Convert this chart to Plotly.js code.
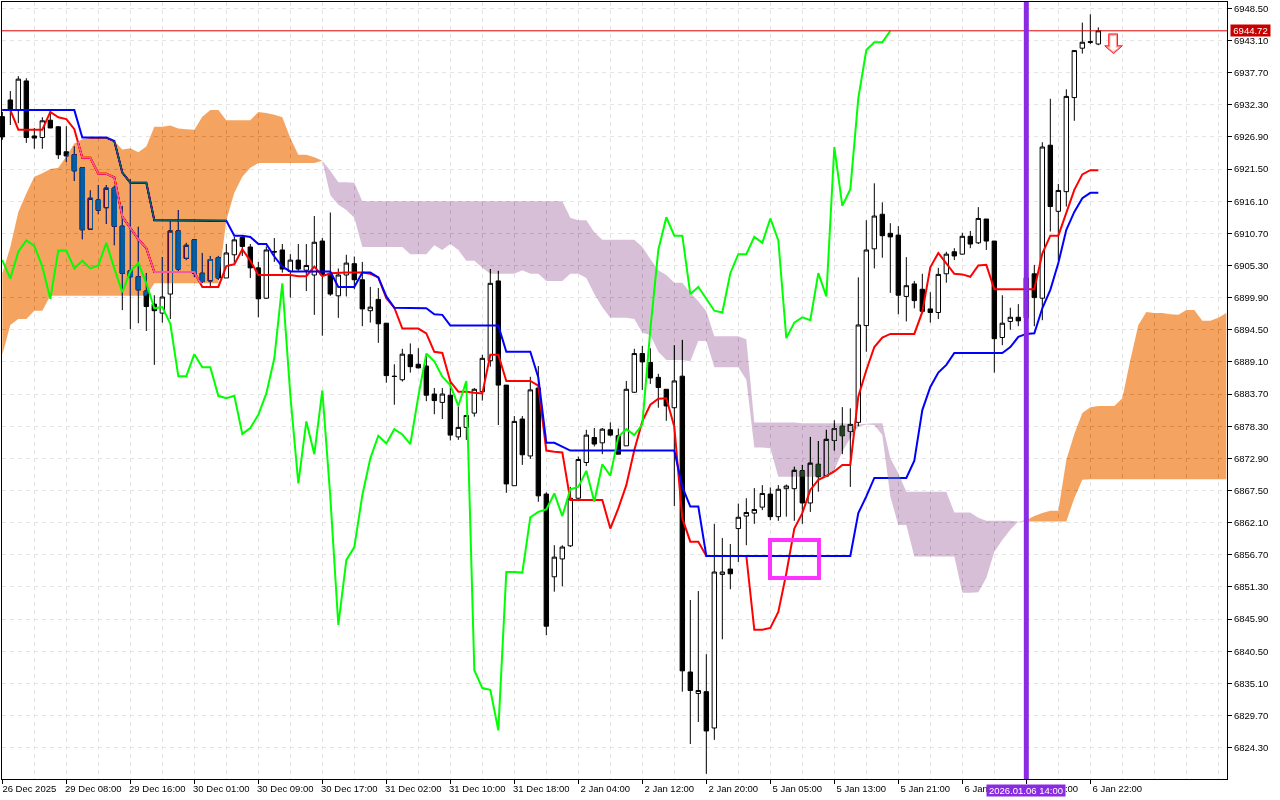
<!DOCTYPE html>
<html>
<head>
<meta charset="utf-8">
<script src="https://cdn.plot.ly/plotly-3.0.1.min.js"></script>
<style>html,body{margin:0;padding:0;background:#fff}#chart{width:1280px;height:800px}</style>
</head>
<body>
<div id="chart"></div>
<script>
const open = [
6930.3,6933.1,6931.4,6936.3,6927.05,6926.8,6929.7,6928.6,6924.4,6923.9,
6921.7,6911.4,6916.3,6915.0,6918.3,6911.9,6904.4,6903.4,6901.0,6898.8,
6897.3,6900.5,6911.1,6906.5,6909.6,6904.0,6902.7,6906.6,6903.2,6907.1,
6910.0,6908.4,6904.9,6899.8,6907.65,6907.9,6904.3,6906.2,6904.5,6903.7,
6909.4,6903.9,6900.2,6903.7,6905.6,6902.9,6897.7,6899.6,6895.6,6886.7,
6886.1,6890.3,6888.7,6888.4,6883.7,6882.3,6883.5,6876.5,6878.1,6880.5,
6884.1,6889.3,6902.7,6885.2,6868.3,6879.5,6873.3,6884.7,6866.9,6853.0,
6856.0,6858.2,6866.2,6872.2,6876.4,6875.5,6877.7,6876.7,6875.0,6884.0,
6890.5,6889.0,6886.5,6884.5,6881.4,6886.7,6837.0,6833.4,6833.7,6827.6,
6853.4,6854.3,6861.1,6863.2,6863.7,6864.7,6866.9,6863.1,6867.8,6867.8,
6870.8,6865.4,6871.9,6869.9,6875.9,6878.3,6877.4,6878.95,6895.2,6908.1,
6913.9,6910.7,6910.4,6900.1,6902.2,6901.3,6898.0,6897.4,6903.9,6907.6,
6907.2,6910.2,6909.1,6913.1,6909.4,6893.2,6895.9,6896.6,6896.5,6903.9,
6899.8,6925.5,6914.4,6917.7,6933.5,6941.8,6942.9,6942.5];
const close = [
6926.9,6931.4,6936.6,6926.8,6926.7,6929.6,6928.4,6923.9,6923.7,6921.2,
6911.3,6916.6,6914.6,6918.3,6911.9,6904.0,6903.4,6901.2,6898.4,6897.7,
6900.0,6911.1,6904.7,6908.7,6904.0,6902.6,6906.3,6903.2,6907.4,6909.6,
6908.5,6904.9,6899.7,6907.9,6907.56,6904.7,6906.2,6904.7,6905.3,6909.2,
6903.7,6900.5,6903.7,6905.7,6902.9,6898.0,6898.3,6895.5,6886.8,6886.65,
6890.4,6888.3,6888.1,6883.5,6882.6,6883.7,6876.8,6878.1,6880.1,6884.5,
6889.7,6902.3,6885.2,6868.6,6879.1,6873.5,6884.4,6866.6,6844.7,6856.3,
6858.0,6866.2,6872.7,6876.8,6875.3,6877.8,6876.8,6873.6,6884.5,6890.5,
6889.1,6886.4,6884.8,6881.7,6885.9,6837.2,6833.9,6833.9,6827.1,6853.8,
6853.8,6853.5,6863.0,6863.8,6864.3,6867.0,6863.1,6867.7,6868.25,6870.9,
6865.4,6872.1,6869.8,6876.1,6877.9,6876.7,6878.6,6895.3,6907.9,6913.6,
6910.3,6910.1,6900.3,6901.9,6899.4,6897.6,6897.4,6903.8,6907.2,6906.9,
6910.2,6908.9,6913.2,6909.4,6893.0,6895.6,6896.6,6896.0,6903.2,6899.9,
6925.2,6915.2,6917.9,6933.7,6941.4,6942.8,6942.8,6944.72];
const high = [
6931.1,6934.6,6937.1,6936.75,6928.4,6930.2,6931.4,6928.7,6928.7,6925.3,
6921.8,6917.9,6918.8,6918.8,6918.7,6915.3,6919.8,6911.8,6904.0,6900.3,
6906.7,6912.8,6914.6,6909.1,6909.6,6907.4,6906.9,6906.9,6908.9,6910.1,
6910.4,6908.9,6905.9,6908.5,6909.9,6908.9,6907.2,6908.9,6908.9,6913.6,
6909.9,6914.2,6904.8,6907.1,6906.8,6905.9,6901.7,6901.5,6895.6,6888.7,
6891.3,6892.2,6891.4,6890.3,6884.7,6884.7,6885.7,6881.6,6880.2,6884.7,
6890.3,6904.7,6904.4,6885.2,6880.0,6880.0,6886.6,6888.4,6867.2,6858.3,
6858.3,6868.1,6873.2,6877.7,6878.0,6878.0,6878.95,6877.9,6885.9,6891.3,
6891.8,6891.4,6887.1,6884.5,6891.9,6892.8,6849.1,6850.6,6840.0,6861.9,
6859.5,6858.5,6865.3,6866.2,6867.9,6868.4,6868.0,6868.4,6868.5,6871.5,
6871.8,6876.5,6875.8,6877.7,6879.3,6881.5,6881.3,6903.3,6912.9,6919.1,
6915.9,6912.4,6911.9,6906.7,6902.7,6903.9,6900.8,6904.9,6907.6,6908.2,
6910.8,6911.1,6915.1,6913.1,6909.4,6900.3,6898.2,6898.8,6904.2,6905.4,
6926.0,6933.3,6919.0,6934.9,6941.4,6946.1,6947.5,6945.3];
const low = [
6926.4,6928.9,6929.2,6925.9,6924.9,6924.9,6928.4,6923.2,6922.7,6919.5,
6909.7,6911.3,6913.9,6912.3,6908.7,6897.8,6894.6,6895.6,6894.3,6888.6,
6895.7,6896.3,6904.4,6906.2,6903.4,6902.4,6901.5,6902.9,6903.2,6905.7,
6906.9,6903.2,6896.6,6899.7,6905.9,6904.1,6899.9,6904.4,6901.0,6897.0,
6893.5,6900.2,6896.5,6900.1,6901.3,6895.1,6895.7,6892.3,6885.6,6881.9,
6885.8,6887.3,6888.0,6882.5,6880.3,6879.5,6875.9,6876.0,6876.0,6879.9,
6882.6,6888.3,6878.5,6867.1,6868.3,6871.8,6872.8,6865.6,6843.2,6850.5,
6851.4,6858.0,6866.1,6871.6,6874.9,6873.6,6876.6,6873.6,6875.0,6883.9,
6884.4,6885.4,6881.4,6879.2,6864.9,6833.7,6824.9,6828.6,6819.9,6825.6,
6842.5,6850.9,6855.5,6858.3,6861.9,6864.2,6862.5,6862.4,6863.1,6862.4,
6861.9,6863.9,6867.3,6869.8,6874.2,6873.6,6868.1,6878.3,6890.8,6904.8,
6906.6,6900.7,6897.1,6895.9,6898.1,6897.6,6895.7,6896.3,6902.4,6906.2,
6907.1,6908.2,6908.9,6907.9,6887.3,6891.9,6894.5,6895.1,6895.8,6895.1,
6896.1,6911.0,6906.2,6915.2,6929.6,6940.9,6942.5,6942.3];

const tenkan = [
6931.4,6931.4,6928.1,6928.1,6928.1,6928.1,6931.1,6930.2,6929.9,6928.2,
6923.4,6923.4,6920.7,6920.7,6920.1,6913.5,6911.6,6909.7,6908.2,6904.2,
6904.2,6904.2,6904.2,6904.2,6904.2,6901.7,6901.7,6901.7,6905.2,6905.5,
6908.0,6906.1,6903.7,6903.7,6903.7,6903.7,6903.7,6903.5,6903.5,6905.1,
6903.5,6904.0,6904.1,6904.1,6904.1,6904.1,6903.9,6903.3,6899.8,6898.2,
6894.7,6894.7,6894.7,6893.9,6890.8,6890.6,6885.8,6884.1,6884.1,6883.9,
6883.8,6890.3,6890.3,6885.9,6885.9,6885.9,6885.9,6885.1,6874.2,6874.0,
6873.9,6865.9,6865.9,6865.9,6865.9,6865.9,6861.1,6864.5,6868.4,6874.3,
6879.1,6881.9,6882.9,6883.0,6878.2,6862.8,6858.9,6858.9,6856.5,6856.5,
6856.5,6856.5,6856.5,6856.5,6844.1,6844.1,6844.4,6847.1,6853.6,6861.1,
6863.7,6867.6,6869.3,6869.9,6870.7,6871.8,6871.8,6883.3,6887.7,6891.6,
6893.2,6893.8,6893.8,6893.8,6893.8,6897.5,6905.0,6907.4,6905.7,6903.9,
6903.8,6903.4,6905.3,6905.4,6901.3,6901.3,6901.3,6901.3,6901.3,6901.3,
6907.3,6910.3,6910.3,6914.1,6918.0,6920.6,6921.3,6921.3];
const kijun = [
6931.4,6931.4,6931.4,6931.4,6931.4,6931.4,6931.4,6931.4,6931.4,6931.4,
6926.8,6926.8,6926.8,6926.8,6926.2,6920.9,6919.2,6919.2,6919.2,6912.9,
6912.9,6912.9,6912.9,6912.9,6912.9,6912.9,6912.9,6912.9,6912.8,6910.3,
6910.3,6910.1,6908.9,6908.9,6906.8,6905.1,6904.3,6904.3,6904.3,6904.3,
6904.3,6904.3,6901.7,6901.7,6901.7,6904.1,6904.1,6903.3,6900.1,6898.2,
6898.2,6898.2,6898.2,6898.1,6897.1,6897.0,6895.2,6895.2,6895.2,6895.2,
6895.2,6895.2,6895.2,6890.8,6890.8,6890.8,6890.8,6886.5,6875.5,6875.5,
6874.9,6874.2,6874.2,6874.2,6874.2,6874.2,6874.2,6874.2,6874.2,6874.2,
6874.2,6874.2,6874.2,6874.2,6874.2,6868.1,6864.8,6864.8,6856.5,6856.5,
6856.5,6856.5,6856.5,6856.5,6856.5,6856.5,6856.5,6856.5,6856.5,6856.5,
6856.5,6856.5,6856.5,6856.5,6856.5,6856.5,6856.5,6863.7,6866.5,6869.6,
6869.6,6869.6,6869.6,6869.6,6872.5,6881.0,6884.9,6887.3,6888.6,6890.6,
6890.6,6890.6,6890.6,6890.6,6890.6,6890.6,6891.6,6893.3,6893.8,6893.9,
6898.1,6901.2,6905.7,6911.3,6914.3,6916.6,6917.5,6917.5];
const chikou = [
6906.2,6903.1,6907.6,6909.5,6908.6,6905.1,6899.7,6907.8,6907.8,6904.8,
6906.1,6904.8,6905.3,6909.1,6904.8,6900.8,6904.3,6905.7,6902.3,6898.1,
6898.3,6895.5,6886.7,6886.7,6890.4,6888.2,6888.2,6883.4,6883.0,6883.4,
6877.0,6878.0,6880.2,6883.8,6889.7,6902.3,6883.5,6868.7,6879.1,6873.6,
6884.3,6866.4,6844.9,6855.8,6858.0,6866.7,6872.9,6876.7,6875.4,6877.8,
6876.9,6875.3,6883.3,6890.5,6889.2,6886.6,6885.2,6881.7,6885.9,6837.3,
6834.3,6834.0,6827.2,6853.8,6853.8,6853.7,6863.0,6863.9,6864.3,6867.0,
6863.2,6867.7,6868.1,6870.8,6865.6,6871.9,6870.0,6876.5,6877.8,6876.8,
6878.6,6894.5,6907.9,6913.4,6910.3,6910.3,6900.5,6901.7,6899.7,6897.7,
6897.4,6904.0,6907.2,6907.2,6910.1,6909.1,6913.2,6909.5,6893.1,6895.7,
6896.6,6896.1,6904.0,6900.1,6925.2,6915.3,6918.1,6933.4,6941.5,6942.8,
6942.8,6944.7];
// Senkou spans, 154 values (the cloud runs 26 bars past the last candle)
const senkouA = [
6904.0,6908.4,6914.3,6917.4,6920.2,6920.8,6921.5,6921.7,6923.6,6925.8,
6926.5,6926.7,6926.7,6926.7,6926.2,6924.8,6925.0,6924.3,6925.3,6928.6,
6928.6,6928.8,6928.3,6928.2,6928.1,6930.3,6931.4,6931.4,6929.7,6929.7,
6929.7,6929.7,6931.1,6930.9,6930.6,6930.2,6926.7,6923.9,6923.9,6923.5,
6922.9,
6917.1,6915.5,6914.6,6913.3,6908.4,6908.4,6908.4,6908.4,6908.4,6908.4,
6907.2,6907.2,6907.2,6908.7,6907.9,6908.9,6907.9,6906.1,6906.1,6904.9,
6903.9,6903.9,6903.9,6903.9,6904.5,6903.9,6903.9,6902.7,6902.7,6902.7,
6903.9,6903.9,6903.2,6900.5,6898.3,6896.5,6896.5,6896.5,6896.3,6894.0,
6893.6,6890.8,6889.4,6889.4,6889.4,6889.2,6892.6,6892.6,6888.2,6888.2,
6888.2,6888.2,6886.1,6874.7,6874.7,6874.6,6869.8,6869.8,6869.8,6869.8,
6869.8,6869.8,6869.8,6870.9,6874.0,6876.3,6878.2,6878.6,6878.5,6876.8,
6866.5,6861.7,6861.7,6856.4,6856.4,6856.4,6856.4,6856.4,6856.4,6850.3,
6850.3,6850.4,6852.8,6857.2,6859.2,6860.9,
6862.3,6862.5,6863.2,6863.7,6864.1,6864.1,6872.6,6877.0,6880.5,6881.5,
6881.7,6881.7,6881.7,6883.0,6889.4,6895.3,6897.5,6897.3,6897.3,6897.1,
6897.0,6897.8,6897.8,6896.0,6896.0,6896.5,6897.3];
const senkouB = [
6890.3,6895.3,6896.3,6896.3,6897.7,6897.7,6900.2,6900.2,6900.2,6900.2,
6900.2,6900.2,6900.2,6900.2,6900.2,6900.2,6900.2,6900.2,6900.2,6902.3,
6902.3,6902.3,6902.3,6902.3,6902.3,6902.3,6902.3,6902.3,6912.9,6917.5,
6920.2,6921.7,6922.5,6922.5,6922.5,6922.5,6922.5,6922.5,6922.5,6922.5,
6922.9,
6921.2,6919.3,6919.3,6919.2,6916.1,6916.1,6916.1,6916.1,6916.1,6916.1,
6916.1,6916.1,6916.1,6916.1,6916.1,6916.1,6916.1,6916.1,6916.1,6916.1,
6916.1,6916.1,6916.1,6916.1,6916.1,6916.1,6916.1,6916.1,6916.1,6916.1,
6913.3,6912.9,6912.9,6910.9,6909.6,6909.6,6909.6,6909.6,6909.6,6908.4,
6906.4,6904.5,6903.7,6902.4,6902.4,6900.7,6899.3,6897.6,6893.4,6893.4,
6893.4,6893.4,6892.9,6878.9,6878.9,6878.9,6878.9,6878.9,6878.9,6878.8,
6878.8,6878.8,6878.8,6878.8,6878.8,6878.7,6878.6,6878.7,6878.8,6878.8,
6872.9,6870.4,6867.3,6867.3,6867.3,6867.3,6867.3,6867.3,6863.8,6863.8,
6863.8,6862.9,6862.4,6862.4,6862.4,6862.4,
6862.3,6862.3,6862.3,6862.3,6862.3,6862.3,6862.3,6866.2,6869.3,6869.4,
6869.4,6869.4,6869.4,6869.4,6869.4,6869.4,6869.4,6869.4,6869.4,6869.4,
6869.4,6869.4,6869.4,6869.4,6869.4,6869.4,6869.4];

const priceTicks = [6948.5,6943.1,6937.7,6932.3,6926.9,6921.5,6916.1,6910.7,6905.3,6899.9,6894.5,6889.1,6883.7,6878.3,6872.9,6867.5,6862.1,6856.7,6851.3,6845.9,6840.5,6835.1,6829.7,6824.3];
const timeTickBars = [0,8,16,24,32,40,48,56,64,72,80,88,96,104,112,120,128,136];
const timeTickLabels = ["26 Dec 2025","29 Dec 08:00","29 Dec 16:00","30 Dec 01:00","30 Dec 09:00","30 Dec 17:00","31 Dec 02:00","31 Dec 10:00","31 Dec 18:00","2 Jan 04:00","2 Jan 12:00","2 Jan 20:00","5 Jan 05:00","5 Jan 13:00","5 Jan 21:00","6 Jan 06:00","6 Jan 14:00","6 Jan 22:00"];
const bidPrice = 6944.72;
const cursorBar = 128;
const cursorLabel = "2026.01.06 14:00";
const boxBars = [95.96,102.08];
const boxPrices = [6859.2,6852.8];
const arrowBars = [138.3,139.4,139.4,140,138.9,137.8,138.3];
const arrowPrices = [6944.2,6944.2,6942.2,6942.2,6940.9,6942.2,6942.2];
const arrowInnerBars = [138.5,139.2,139.2,139.55,138.9,138.25,138.5];
const arrowInnerPrices = [6943.9,6943.9,6941.9,6941.9,6941.3,6941.9,6941.9];

const bars = open.map((_, i) => i);
const idx = n => Array.from({length: n}, (_, i) => i);
function cloud(s, e, xorColor) {
  const xs = [], ys = [];
  for (let i = s; i <= e; i++) { xs.push(i); ys.push(senkouA[i]); }
  for (let i = e; i >= s; i--) { xs.push(i); ys.push(senkouB[i]); }
  return {type:'scatter', mode:'none', x:xs, y:ys, fill:'toself', fillcolor:xorColor,
          hoverinfo:'skip', cliponaxis:false, showlegend:false};
}
function line(y, color) {
  return {type:'scatter', mode:'lines', x:idx(y.length), y:y, line:{color:color, width:2, shape:'linear'},
          hoverinfo:'skip', cliponaxis:false, showlegend:false};
}
function pathOf(xs, ys) {
  return xs.map((x, i) => (i ? 'L' : 'M') + x + ',' + ys[i]).join(' ') + ' Z';
}
const traces = [
  {type:'candlestick', x:bars, open:open, high:high, low:low, close:close, whiskerwidth:0,
   increasing:{line:{color:'#000000', width:1}, fillcolor:'#ffffff'},
   decreasing:{line:{color:'#000000', width:1}, fillcolor:'#000000'},
   hoverinfo:'skip', showlegend:false},
  line(tenkan, '#ff0000'),
  line(kijun, '#0000ff'),
  cloud(0, 40, '#0b5b9f'),
  cloud(40, 127, '#274027'),
  cloud(127, 153, '#0b5b9f'),
  line(chikou, '#00ff00')
];
const axisFont = {family:'"Liberation Sans", Arial, sans-serif', size:9.5, color:'#000000'};
const gridColor = '#e4e4e4';
const layout = {
  width:1280, height:800, autosize:false,
  margin:{l:2, r:53, t:2, b:21, pad:0},
  paper_bgcolor:'#ffffff', plot_bgcolor:'#ffffff',
  showlegend:false, hovermode:false, boxgap:0.45, boxgroupgap:0,
  xaxis:{type:'linear', range:[-0.04,153.085], rangeslider:{visible:false},
    tickmode:'array', tickvals:timeTickBars, ticktext:timeTickLabels, tickfont:axisFont,
    ticks:'outside', ticklen:4, tickcolor:'#000000', tickwidth:1, tickangle:0, ticklabelshift:27, ticklabelstandoff:-3,
    showline:true, linecolor:'#000000', linewidth:1, mirror:true, zeroline:false,
    showgrid:true, gridcolor:gridColor, griddash:'4px,4px', gridwidth:1,
    minor:{tick0:0, dtick:4, showgrid:true, gridcolor:gridColor, griddash:'4px,4px', gridwidth:1, ticks:''}},
  yaxis:{type:'linear', side:'right', range:[6819.03,6949.56],
    tickmode:'array', tickvals:priceTicks, ticktext:priceTicks.map(v => v.toFixed(2)), tickfont:axisFont,
    ticks:'outside', ticklen:4, tickcolor:'#000000', tickwidth:1,
    showline:true, linecolor:'#000000', linewidth:1, mirror:true, zeroline:false,
    showgrid:true, gridcolor:gridColor, griddash:'4px,4px', gridwidth:1},
  shapes:[
    {type:'line', xref:'paper', x0:0, x1:1, yref:'y', y0:bidPrice, y1:bidPrice, line:{color:'#e00000', width:1}, layer:'above'},
    {type:'line', xref:'x', x0:cursorBar, x1:cursorBar, yref:'paper', y0:0, y1:1, line:{color:'#8a2be2', width:5}, layer:'above'},
    {type:'rect', xref:'x', yref:'y', x0:boxBars[0], x1:boxBars[1], y0:boxPrices[0], y1:boxPrices[1], line:{color:'#ff33ff', width:4}, fillcolor:'rgba(0,0,0,0)', layer:'above'},
    {type:'path', xref:'x', yref:'y', path:pathOf(arrowBars, arrowPrices), line:{color:'#ff1a1a', width:1}, fillcolor:'#ff9c9c', layer:'above'},
    {type:'path', xref:'x', yref:'y', path:pathOf(arrowInnerBars, arrowInnerPrices), line:{width:0}, fillcolor:'#ffffff', layer:'above'}
  ],
  annotations:[
    {xref:'paper', x:1, xanchor:'left', xshift:3, yref:'y', y:bidPrice, yanchor:'middle', showarrow:false,
     text:bidPrice.toFixed(2), font:{family:axisFont.family, size:9.5, color:'#ffffff'}, bgcolor:'#c80000', borderpad:0, width:39, height:11, align:'center'},
    {xref:'x', x:cursorBar, xanchor:'center', yref:'paper', y:0, yanchor:'top', yshift:-5, showarrow:false,
     text:cursorLabel, font:{family:axisFont.family, size:9.5, color:'#ffffff'}, bgcolor:'#8a2be2', borderpad:0, width:78, height:11, align:'center'}
  ]
};
Plotly.newPlot('chart', traces, layout, {displayModeBar:false, responsive:false}).then(() => {
  // MetaTrader paints the cloud by inverting what lies below it.
  const groups = document.querySelectorAll('#chart .scatterlayer .trace');
  [2,3,4].forEach(k => {
    if (!groups[k]) return;
    groups[k].style.mixBlendMode = 'difference';
    for (let el = groups[k].parentNode; el && el.tagName.toLowerCase() !== 'svg'; el = el.parentNode) {
      el.removeAttribute('clip-path');
      el.style.clipPath = 'none';
    }
  });
});
</script>
</body>
</html>
